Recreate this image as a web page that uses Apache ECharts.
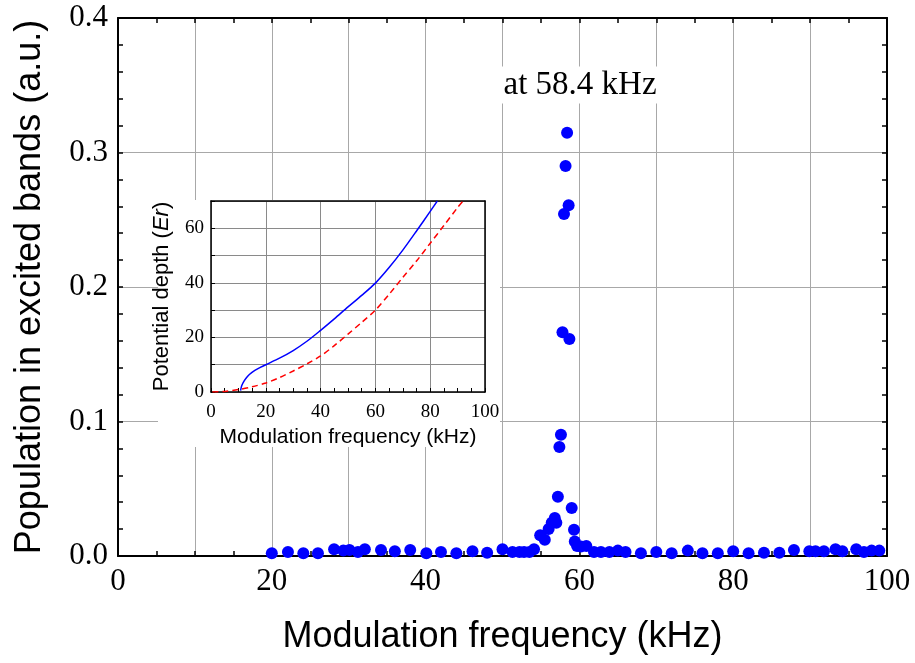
<!DOCTYPE html>
<html>
<head>
<meta charset="utf-8">
<script src="https://cdn.jsdelivr.net/npm/echarts@6/dist/echarts.min.js"></script>
<style>html,body{margin:0;padding:0;background:#fff}#c{width:915px;height:663px}</style>
</head>
<body>
<div id="c"></div>
<script>
// Main scatter data: modulation frequency (kHz) and population (a.u.)
const freq = [20.0,22.1,24.1,26.0,28.1,29.3,30.1,31.2,32.1,34.2,36.0,38.0,40.1,42.0,44.0,46.1,48.0,50.0,51.3,52.2,52.8,53.5,54.1,54.9,55.5,56.0,56.4,56.8,57.0,57.2,57.4,57.6,57.8,58.0,58.2,58.4,58.6,58.7,59.0,59.3,59.4,59.7,60.2,60.9,61.9,62.8,63.9,65.0,66.0,68.0,70.0,72.0,74.1,76.0,78.0,80.0,82.0,84.0,86.0,87.9,89.9,90.7,91.8,93.3,94.2,96.0,97.0,98.0,99.0];
const population = [0.002,0.003,0.002,0.002,0.005,0.004,0.0045,0.003,0.005,0.0045,0.0035,0.0045,0.002,0.003,0.002,0.0035,0.0025,0.005,0.003,0.003,0.003,0.003,0.005,0.0154,0.0121,0.020,0.0248,0.0283,0.0248,0.0441,0.081,0.0902,0.1663,0.2543,0.290,0.3147,0.2607,0.1613,0.0357,0.0196,0.0107,0.0074,0.007,0.0074,0.003,0.003,0.003,0.004,0.003,0.002,0.003,0.002,0.004,0.002,0.002,0.0035,0.002,0.0025,0.0025,0.0045,0.0035,0.0035,0.0035,0.005,0.0035,0.005,0.003,0.004,0.004];

// Inset curves: potential depth (Er) vs modulation frequency (kHz)
const blueX = [10.8,11.2,12,13,14,16,18,20,25,30,35,40,45,50,55,60,65,70,75,80,82.6];
const blueY = [0.5,2.3,3.9,5.3,6.4,7.9,9.0,10.0,12.4,15.2,18.6,22.6,26.8,31.2,35.4,39.9,45.6,52.0,59.0,66.2,70];
const redX = [0.5,5,10,15,20,25,30,35,40,45,50,55,60,65,70,75,80,85,90,92];
const redY = [0,0.2,0.9,1.9,3.3,5.3,7.7,10.3,13.2,17.0,21.2,25.5,30.0,35.8,42.0,48.0,54.5,61.0,67.6,70];

// Titles / annotation text
const mainXTitle = 'Modulation frequency (kHz)';
const mainYTitle = 'Population in excited bands (a.u.)';
const insetXTitle = 'Modulation frequency (kHz)';
const insetYTitle = 'Potential depth ({it|Er})';
const annotation = 'at 58.4 kHz';

const SERIF = '"Liberation Serif","Times New Roman",serif';
const SANS = '"Liberation Sans",Arial,sans-serif';

const zip = (a,b)=>a.map((v,i)=>[v,b[i]]);

function mainAxisBase(extra){
  return Object.assign({
    gridIndex:0, z:0,
    axisLine:{show:true,onZero:false,lineStyle:{color:'#000',width:2}},
    axisTick:{show:true,inside:true,length:5,lineStyle:{color:'#000',width:1.5}},
    minorTick:{show:true,length:5,lineStyle:{color:'#000',width:1.5}},
    splitLine:{show:false},
  }, extra);
}
function insetAxisBase(extra){
  return Object.assign({
    gridIndex:1, z:5,
    axisLine:{show:true,onZero:false,lineStyle:{color:'#000',width:1.5}},
    axisTick:{show:true,inside:true,length:4,lineStyle:{color:'#000',width:1}},
    splitLine:{show:false},
  }, extra);
}

const chart = echarts.init(document.getElementById('c'), null, {renderer:'canvas'});
chart.setOption({
  backgroundColor:'#fff',
  animation:false,
  grid:[
    {left:118, top:18, width:769, height:538},
    {left:211, top:201, width:274, height:191, z:5}
  ],
  xAxis:[
    mainAxisBase({type:'value', position:'bottom', min:0, max:100, interval:10,
      minorTick:{show:true,splitNumber:2,length:5,lineStyle:{color:'#000',width:1.5}},
      splitLine:{show:true,lineStyle:{color:'#a8a8a8',width:1}},
      axisLabel:{show:true,margin:10,color:'#000',fontFamily:SERIF,fontSize:31,
        formatter:v=>(v%20===0?String(v):'')},
      name:mainXTitle, nameLocation:'middle', nameGap:63,
      nameTextStyle:{fontFamily:SANS,fontSize:36,color:'#000',verticalAlign:'top'}
    }),
    mainAxisBase({type:'value', position:'top', min:0, max:100, interval:10,
      minorTick:{show:true,splitNumber:2,length:5,lineStyle:{color:'#000',width:1.5}},
      axisLabel:{show:false}}),
    insetAxisBase({type:'value', position:'bottom', min:0, max:100, interval:20,
      minorTick:{show:true,splitNumber:4,length:4,lineStyle:{color:'#000',width:1}},
      splitLine:{show:true,lineStyle:{color:'#8a8a8a',width:1}},
      axisLabel:{show:true,margin:11,color:'#000',fontFamily:SERIF,fontSize:19},
      name:insetXTitle, nameLocation:'middle', nameGap:35,
      nameTextStyle:{fontFamily:SANS,fontSize:21,color:'#000',verticalAlign:'top'}
    }),
    insetAxisBase({type:'value', position:'top', min:0, max:100, interval:20,
      axisTick:{show:false}, axisLabel:{show:false}})
  ],
  yAxis:[
    mainAxisBase({type:'value', position:'left', min:0, max:0.4, interval:0.1,
      minorTick:{show:true,splitNumber:5,length:5,lineStyle:{color:'#000',width:1.5}},
      splitLine:{show:true,lineStyle:{color:'#a8a8a8',width:1}},
      axisLabel:{show:true,margin:10,color:'#000',fontFamily:SERIF,fontSize:31,
        formatter:v=>v.toFixed(1)},
      name:mainYTitle, nameLocation:'middle', nameGap:70, nameRotate:90,
      nameTextStyle:{fontFamily:SANS,fontSize:36,color:'#000'}
    }),
    mainAxisBase({type:'value', position:'right', min:0, max:0.4, interval:0.1,
      minorTick:{show:true,splitNumber:5,length:5,lineStyle:{color:'#000',width:1.5}},
      axisLabel:{show:false}}),
    insetAxisBase({type:'value', position:'left', min:0, max:70, interval:10,
      splitLine:{show:true,lineStyle:{color:'#8a8a8a',width:1}},
      axisLabel:{show:true,margin:7,color:'#000',fontFamily:SERIF,fontSize:19,
        formatter:v=>(v%20===0?String(v):'')},
      name:insetYTitle, nameLocation:'middle', nameGap:38, nameRotate:90,
      nameTextStyle:{fontFamily:SANS,fontSize:22,color:'#000',
        rich:{it:{fontFamily:SANS,fontSize:22,fontStyle:'italic',color:'#000'}}}
    }),
    insetAxisBase({type:'value', position:'right', min:0, max:70, interval:10,
      axisTick:{show:false}, axisLabel:{show:false}})
  ],
  series:[
    {type:'scatter', xAxisIndex:0, yAxisIndex:0, z:3,
      symbol:'circle', symbolSize:12, itemStyle:{color:'#0000ff',opacity:1},
      data:zip(freq,population)},
    {type:'line', xAxisIndex:2, yAxisIndex:2, z:6, showSymbol:false, smooth:0.3,
      lineStyle:{color:'#0000ff',width:1.5}, data:zip(blueX,blueY)},
    {type:'line', xAxisIndex:2, yAxisIndex:2, z:6, showSymbol:false, smooth:0.3,
      lineStyle:{color:'#ff0000',width:1.5,type:[6,4]}, data:zip(redX,redY)}
  ],
  graphic:[
    {type:'rect', z:1, shape:{x:158,y:200,width:342,height:247}, style:{fill:'#fff'}},
    {type:'text', z:10, x:580, y:85,
      style:{text:annotation, fontFamily:SERIF, fontSize:33, fill:'#000',
        align:'center', verticalAlign:'middle', backgroundColor:'#fff', padding:[2,3]}}
  ]
});
</script>
</body>
</html>
